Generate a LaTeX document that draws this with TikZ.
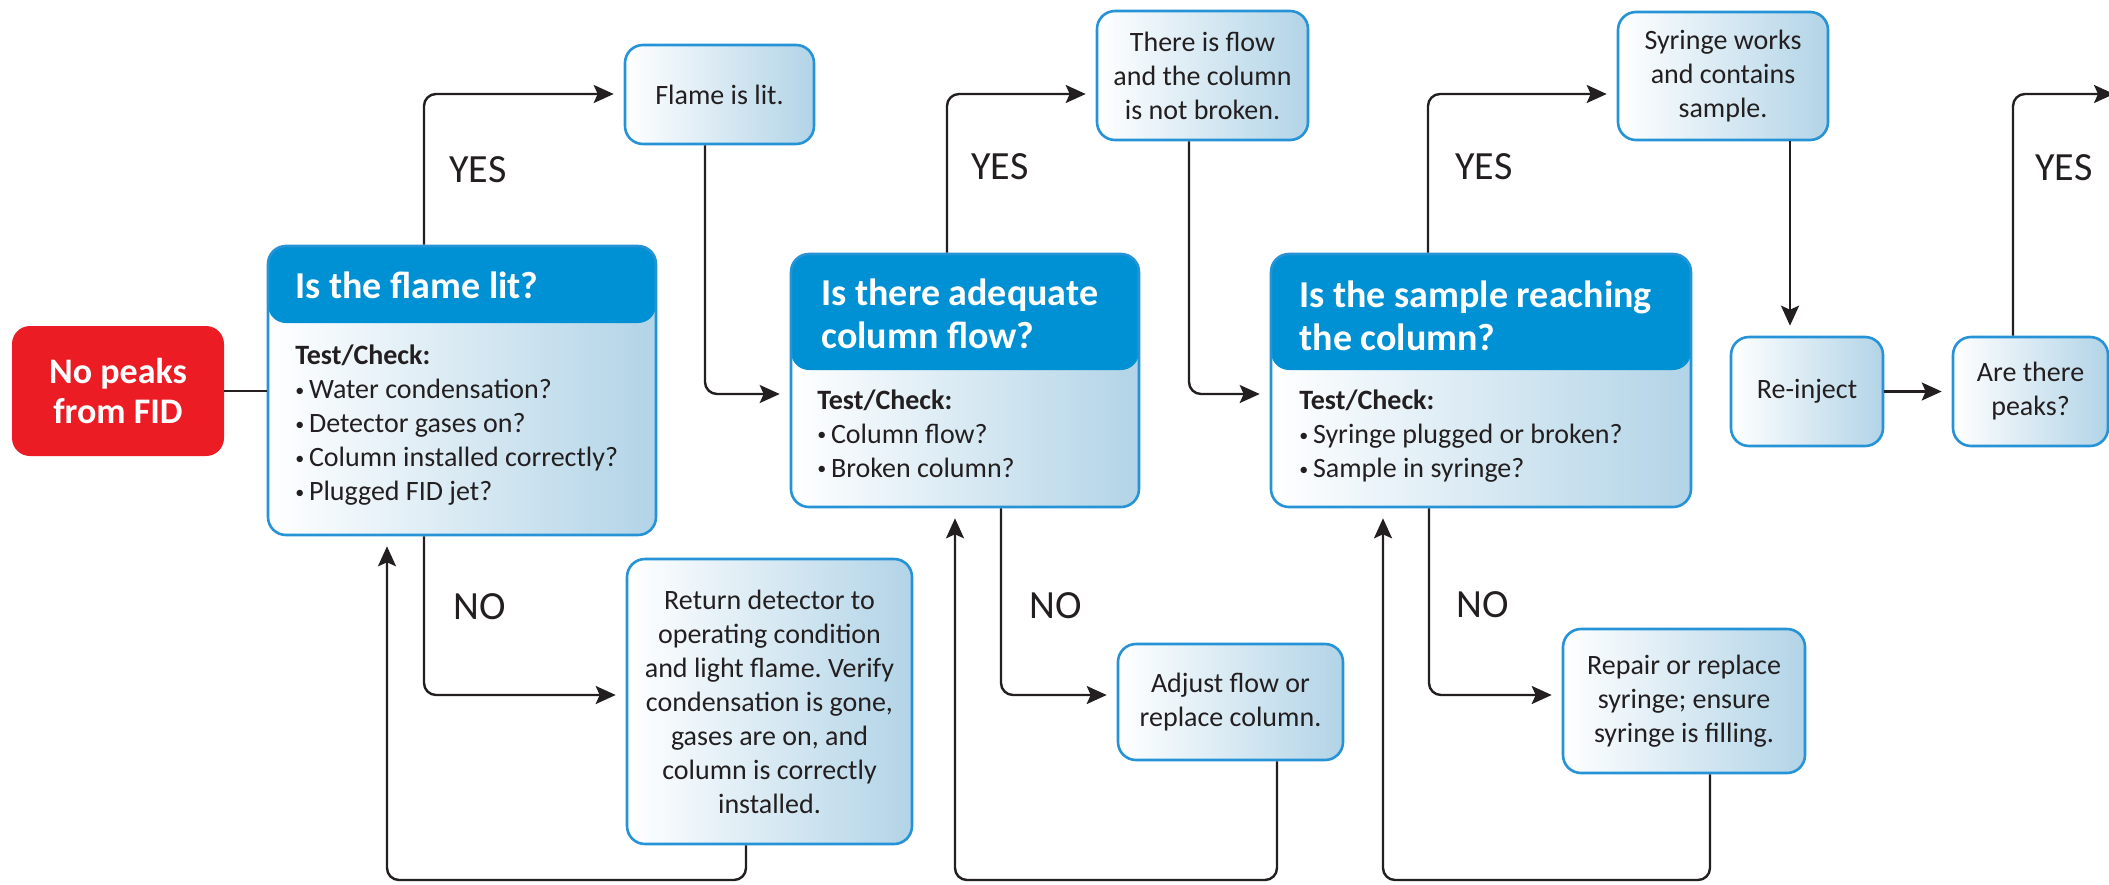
\documentclass[tikz,border=0pt]{standalone}
\usepackage{fontspec}
\setmainfont{Carlito}
\usepackage{tikz}
\usetikzlibrary{arrows.meta}
\definecolor{headblue}{RGB}{0,144,212}
\definecolor{edgeblue}{RGB}{38,147,215}
\definecolor{paleblue}{RGB}{178,212,231}
\definecolor{alarmred}{RGB}{236,28,36}
\definecolor{ink}{RGB}{35,31,32}
\frenchspacing
% small list dot
\newcommand{\dotitem}{\raisebox{1.2pt}{\fontsize{9}{9}\selectfont\textbullet}\,}

\tikzset{
  card/.style={draw=edgeblue, line width=1.3pt, rounded corners=9pt,
    left color=white, right color=paleblue, text=ink, align=center,
    inner sep=0pt, font=\fontsize{14}{17}\selectfont},
  % blue title band of height #1 across the top of a card
  question/.style={card, path picture={
      \fill[headblue] (path picture bounding box.north west)
        rectangle ([yshift=-#1]path picture bounding box.north east);}},
  alarm/.style={fill=alarmred, rounded corners=9pt, text=white, align=center,
    inner sep=0pt, font=\bfseries\fontsize{18}{20}\selectfont},
  title/.style={text=white, align=left, inner sep=0pt,
    font=\bfseries\fontsize{19}{21.5}\selectfont},
  checks/.style={text=ink, align=left, inner sep=0pt,
    font=\fontsize{14}{17}\selectfont},
  answer/.style={text=ink, inner sep=0pt, font=\fontsize{20}{24}\selectfont},
  link/.style={draw=ink, line width=1.2pt},
  flow/.style={link, rounded corners=6pt, shorten >=5pt,
    -{Stealth[length=10pt, width=9pt, inset=2pt]}}
}

\begin{document}
\begin{tikzpicture}[x=0.5pt, y=-0.5pt]
    \useasboundingbox (0,0) rectangle (2109,884);
    % rails the connectors run along
    \coordinate (top) at (0,94);
    \coordinate (mid) at (0,394);
    \coordinate (low) at (0,695);
    \coordinate (back1) at (387,880);
    \coordinate (back2) at (955,880);
    \coordinate (back3) at (1383,880);
    \coordinate (onward) at (2124,94);

    % --- start ---
    \node (nopeaks) [alarm, minimum width=106pt, minimum height=65pt]
      at (118,391) {No peaks\\from FID};

    % --- question cards, title band + check list ---
    \node (q1) [question=38.5pt, minimum width=194pt, minimum height=144.5pt]
      at (462,390.5) {};
    \node (q2) [question=58pt, minimum width=174pt, minimum height=126.5pt]
      at (965,380.5) {};
    \node (q3) [question=58pt, minimum width=210pt, minimum height=126.5pt]
      at (1481,380.5) {};

    \node (q1title) [title, anchor=west] at (295,285) {Is the flame lit?};
    \node (q2title) [title, anchor=west] at (821,313.5)
      {Is there adequate\\column flow?};
    \node (q3title) [title, anchor=west] at (1299,316)
      {Is the sample reaching\\the column?};

    \node (q1checks) [checks, anchor=west] at (295,425.5)
      {\textbf{Test/Check:}\\\dotitem Water condensation?\\
       \dotitem Detector gases on?\\\dotitem Column installed correctly?\\
       \dotitem Plugged FID jet?};
    \node (q2checks) [checks, anchor=west] at (817,433.5)
      {\textbf{Test/Check:}\\\dotitem Column flow?\\\dotitem Broken column?};
    \node (q3checks) [checks, anchor=west] at (1299,436)
      {\textbf{Test/Check:}\\\dotitem Syringe plugged or broken?\\
       \dotitem Sample in syringe?};

    % --- outcome cards ---
    \node (flame) [card, minimum width=94.5pt, minimum height=49.5pt]
      at (719.5,94.5) {Flame is lit.};
    \node (ret) [card, minimum width=142.5pt, minimum height=142.5pt]
      at (769.5,701.5) {Return detector to\\operating condition\\
       and light flame. Verify\\condensation is gone,\\gases are on, and\\
       column is correctly\\installed.};
    \node (flow) [card, minimum width=105.5pt, minimum height=64.5pt]
      at (1202.5,75.5) {There is flow\\and the column\\is not broken.};
    \node (adjust) [card, minimum width=112.5pt, minimum height=58pt]
      at (1230.5,702) {Adjust flow or\\replace column.};
    \node (syringe) [card, minimum width=105pt, minimum height=64pt]
      at (1723,76) {Syringe works\\and contains\\sample.};
    \node (repair) [card, minimum width=121pt, minimum height=72pt]
      at (1684,701) {Repair or replace\\syringe; ensure\\syringe is filling.};
    \node (reinject) [card, minimum width=76pt, minimum height=54.5pt]
      at (1807,391.5) {Re-inject};
    \node (peaks) [card, minimum width=77.5pt, minimum height=54.5pt]
      at (2030.5,391.5) {Are there\\peaks?};

    % --- connectors ---
    \draw[link] (nopeaks.east) -- (nopeaks.east -| q1.west);

    \draw[flow] ([xshift=-19pt]q1.north) |- (top -| flame.west);
    \draw[flow] ([xshift=-7.25pt]flame.south) |- (mid -| q2.west);
    \draw[flow] ([xshift=-19pt]q1.south) |- (low -| ret.west);
    \draw[flow] ([xshift=-11.75pt]ret.south) |- (back1) -- (back1 |- q1.south);

    \draw[flow] ([xshift=-9pt]q2.north) |- (top -| flow.west);
    \draw[flow] ([xshift=-6.75pt]flow.south) |- (mid -| q3.west);
    \draw[flow] ([xshift=18pt]q2.south) |- (low -| adjust.west);
    \draw[flow] ([xshift=23.25pt]adjust.south) |- (back2) -- (back2 |- q2.south);

    \draw[flow] ([xshift=-26.5pt]q3.north) |- (top -| syringe.west);
    \draw[flow] ([xshift=-26pt]q3.south) |- (low -| repair.west);
    \draw[flow] ([xshift=13pt]repair.south) |- (back3) -- (back3 |- q3.south);
    \draw[flow] ([xshift=33.5pt]syringe.south) -- ([xshift=-8.5pt]reinject.north);
    \draw[flow] (reinject.east) -- (peaks.west);
    \draw[flow] ([xshift=-8.75pt]peaks.north) |- (onward);

    % --- branch labels ---
    \foreach \n/\x/\y in {1/449/170, 2/971/167, 3/1455/167, 4/2035/168}
      \node (yes\n) [answer, anchor=west] at (\x,\y) {YES};
    \foreach \n/\x/\y in {1/453/607, 2/1029/606, 3/1456/605}
      \node (no\n) [answer, anchor=west] at (\x,\y) {NO};
\end{tikzpicture}
\end{document}
